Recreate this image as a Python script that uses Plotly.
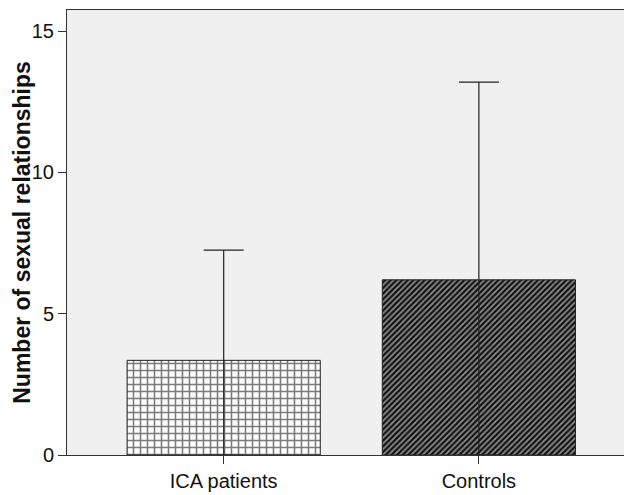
import plotly.graph_objects as go

categories = ["ICA patients", "Controls"]
means = [3.35, 6.2]
upper = [7.25, 13.2]
y_title = "Number of sexual relationships"

err_plus = [u - m for u, m in zip(upper, means)]
err_minus = means[:]

fig = go.Figure()
patterns = [
    dict(shape="+", bgcolor="white", fgcolor="#7a7a7a", size=7, solidity=0.4, fillmode="replace"),
    dict(shape="/", bgcolor="#8e8e8e", fgcolor="#111111", size=4, solidity=0.55, fillmode="replace"),
]
for i, c in enumerate(categories):
    fig.add_trace(go.Bar(
        x=[c], y=[means[i]], width=0.757,
        marker=dict(color="white", line=dict(color="#222222", width=1), pattern=patterns[i]),
        error_y=dict(type="data", array=[err_plus[i]], arrayminus=[err_minus[i]],
                     symmetric=False, color="#222222", thickness=1.2, width=20),
        showlegend=False,
    ))

fig.update_layout(
    width=624, height=487,
    margin=dict(l=59, r=0, t=2, b=40),
    paper_bgcolor="white", plot_bgcolor="#f0f0f0",
    font=dict(family="Liberation Sans, Arial, sans-serif", color="#111111"),
    barmode="overlay",
)
fig.update_xaxes(
    range=[-0.614, 1.6], showline=True, linecolor="#333333", linewidth=1, mirror=True,
    ticks="outside", ticklen=8, tickcolor="#333333", tickfont=dict(size=20),
    showgrid=False, automargin=False,
)
fig.update_yaxes(
    range=[0, 15.75], tickvals=[0, 5, 10, 15], showline=True, linecolor="#333333",
    linewidth=1, mirror=False, ticks="outside", ticklen=8, tickcolor="#333333",
    tickfont=dict(size=20), showgrid=False, zeroline=False, automargin=False,
)
fig.add_annotation(
    text="<b>" + y_title + "</b>", xref="paper", yref="paper", x=-0.081, y=0.5,
    xanchor="center", yanchor="middle", textangle=-90, showarrow=False,
    font=dict(size=23, color="#111111"),
)
fig.write_html("out.html")
